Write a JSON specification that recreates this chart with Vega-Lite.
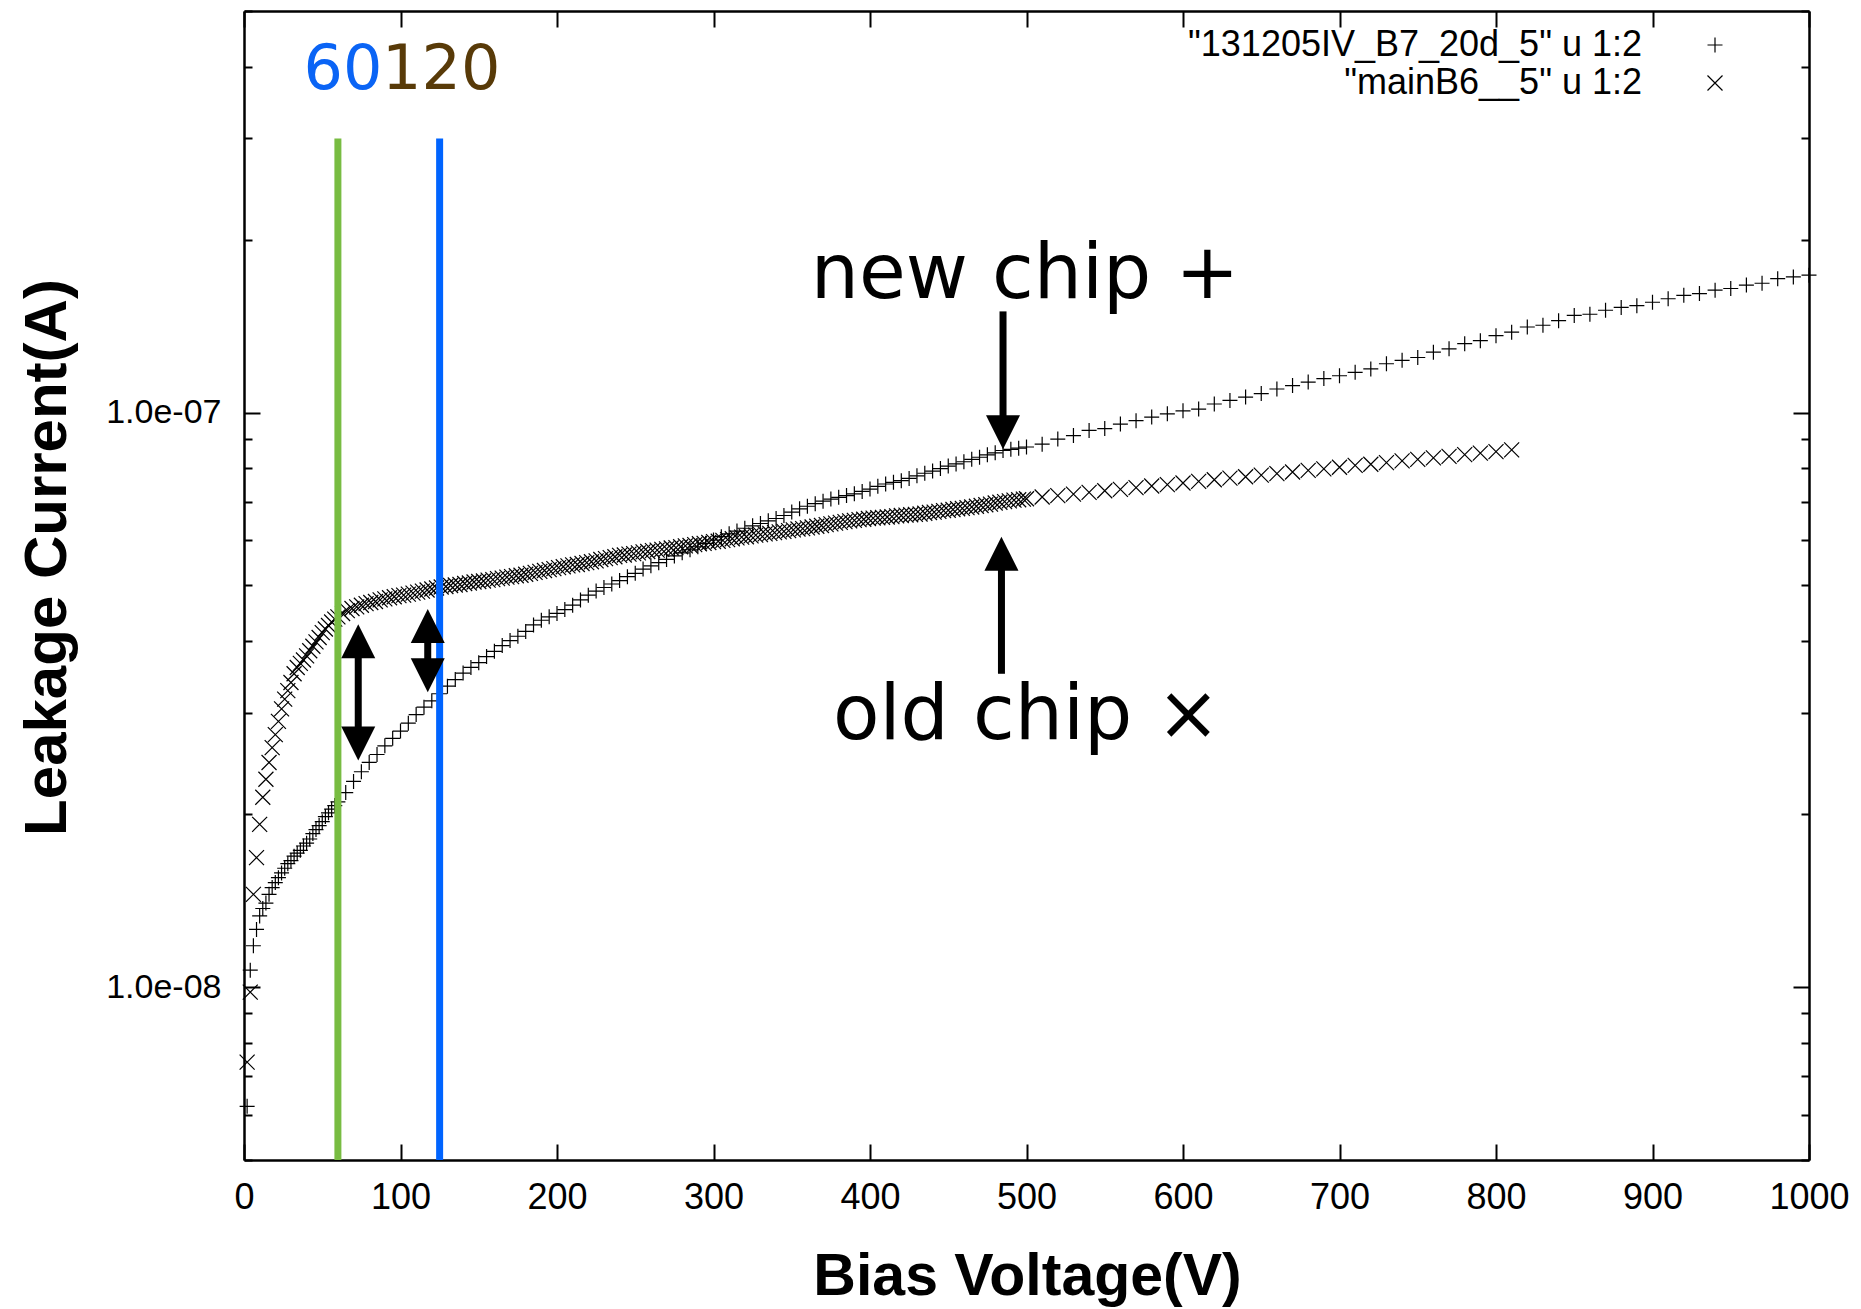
{
"$schema": "https://vega.github.io/schema/vega-lite/v6.json",
"width": 1565, "height": 1149,
"autosize": {"type": "none"},
"padding": {"left": 244, "top": 11, "right": 52, "bottom": 149},
"background": "white",
"config": {
  "view": {"stroke": null},
  "axis": {"labelFont": "Liberation Sans", "labelFontSize": 34, "labelColor": "black", "titleFont": "Liberation Sans", "titleFontSize": 60, "titleFontWeight": "bold", "titleColor": "black", "domainColor": "black", "domainWidth": 2.5, "tickColor": "black", "tickWidth": 2, "grid": false, "labelOverlap": false}
},
"datasets": {
"newchip": [
{"v":2,"i":6.2e-9},{"v":4,"i":1.07e-8},{"v":6,"i":1.18e-8},{"v":8,"i":1.26e-8},{"v":10,"i":1.33e-8},{"v":12,"i":1.37e-8},{"v":14,"i":1.40e-8},{"v":16,"i":1.45e-8},{"v":18,"i":1.49e-8},{"v":20,"i":1.52e-8},{"v":22,"i":1.55e-8},{"v":24,"i":1.58e-8},{"v":26,"i":1.61e-8},{"v":28,"i":1.64e-8},{"v":30,"i":1.66e-8},{"v":32,"i":1.69e-8},{"v":34,"i":1.71e-8},{"v":36,"i":1.73e-8},{"v":38,"i":1.76e-8},{"v":40,"i":1.78e-8},{"v":42,"i":1.81e-8},{"v":44,"i":1.85e-8},{"v":46,"i":1.88e-8},{"v":48,"i":1.91e-8},{"v":50,"i":1.94e-8},{"v":52,"i":1.98e-8},{"v":54,"i":2.01e-8},{"v":56,"i":2.04e-8},{"v":58,"i":2.07e-8},{"v":60,"i":2.10e-8},
{"v":65,"i":2.18e-8},{"v":70,"i":2.28e-8},{"v":75,"i":2.37e-8},{"v":80,"i":2.46e-8},{"v":85,"i":2.54e-8},{"v":90,"i":2.63e-8},{"v":95,"i":2.71e-8},{"v":100,"i":2.79e-8},{"v":105,"i":2.88e-8},{"v":110,"i":2.98e-8},{"v":115,"i":3.07e-8},{"v":120,"i":3.15e-8},{"v":125,"i":3.24e-8},{"v":130,"i":3.34e-8},{"v":135,"i":3.43e-8},{"v":140,"i":3.52e-8},{"v":145,"i":3.60e-8},{"v":150,"i":3.67e-8},{"v":155,"i":3.76e-8},{"v":160,"i":3.84e-8},{"v":165,"i":3.93e-8},{"v":170,"i":4.01e-8},{"v":175,"i":4.08e-8},{"v":180,"i":4.16e-8},{"v":185,"i":4.27e-8},{"v":190,"i":4.35e-8},{"v":195,"i":4.41e-8},{"v":200,"i":4.47e-8},{"v":205,"i":4.54e-8},{"v":210,"i":4.62e-8},{"v":215,"i":4.72e-8},{"v":220,"i":4.81e-8},{"v":225,"i":4.89e-8},{"v":230,"i":4.96e-8},{"v":235,"i":5.03e-8},{"v":240,"i":5.10e-8},{"v":245,"i":5.18e-8},{"v":250,"i":5.25e-8},{"v":255,"i":5.34e-8},{"v":260,"i":5.41e-8},{"v":265,"i":5.48e-8},{"v":270,"i":5.55e-8},{"v":275,"i":5.63e-8},{"v":280,"i":5.70e-8},{"v":285,"i":5.77e-8},{"v":290,"i":5.84e-8},{"v":295,"i":5.92e-8},{"v":300,"i":6.00e-8},{"v":305,"i":6.08e-8},{"v":310,"i":6.15e-8},{"v":315,"i":6.22e-8},{"v":320,"i":6.29e-8},{"v":325,"i":6.35e-8},{"v":330,"i":6.41e-8},{"v":335,"i":6.48e-8},{"v":340,"i":6.54e-8},{"v":345,"i":6.62e-8},{"v":350,"i":6.71e-8},{"v":355,"i":6.80e-8},{"v":360,"i":6.87e-8},{"v":365,"i":6.94e-8},{"v":370,"i":7.01e-8},{"v":375,"i":7.07e-8},{"v":380,"i":7.12e-8},{"v":385,"i":7.17e-8},{"v":390,"i":7.22e-8},{"v":395,"i":7.29e-8},{"v":400,"i":7.36e-8},{"v":405,"i":7.44e-8},{"v":410,"i":7.51e-8},{"v":415,"i":7.56e-8},{"v":420,"i":7.61e-8},{"v":425,"i":7.68e-8},{"v":430,"i":7.76e-8},{"v":435,"i":7.84e-8},{"v":440,"i":7.91e-8},{"v":445,"i":7.99e-8},{"v":450,"i":8.07e-8},{"v":455,"i":8.14e-8},{"v":460,"i":8.21e-8},{"v":465,"i":8.29e-8},{"v":470,"i":8.36e-8},{"v":475,"i":8.44e-8},{"v":480,"i":8.51e-8},{"v":485,"i":8.59e-8},{"v":490,"i":8.63e-8},{"v":495,"i":8.67e-8},{"v":500,"i":8.71e-8},
{"v":510,"i":8.81e-8},{"v":520,"i":8.99e-8},{"v":530,"i":9.12e-8},{"v":540,"i":9.31e-8},{"v":550,"i":9.38e-8},{"v":560,"i":9.55e-8},{"v":570,"i":9.68e-8},{"v":580,"i":9.82e-8},{"v":590,"i":9.95e-8},{"v":600,"i":1.007e-7},{"v":610,"i":1.014e-7},{"v":620,"i":1.035e-7},{"v":630,"i":1.050e-7},{"v":640,"i":1.064e-7},{"v":650,"i":1.079e-7},{"v":660,"i":1.099e-7},{"v":670,"i":1.114e-7},{"v":680,"i":1.130e-7},{"v":690,"i":1.146e-7},{"v":700,"i":1.159e-7},{"v":710,"i":1.175e-7},{"v":720,"i":1.191e-7},{"v":730,"i":1.216e-7},{"v":740,"i":1.233e-7},{"v":750,"i":1.247e-7},{"v":760,"i":1.274e-7},{"v":770,"i":1.291e-7},{"v":780,"i":1.318e-7},{"v":790,"i":1.334e-7},{"v":800,"i":1.361e-7},{"v":810,"i":1.380e-7},{"v":820,"i":1.409e-7},{"v":830,"i":1.419e-7},{"v":840,"i":1.445e-7},{"v":850,"i":1.476e-7},{"v":860,"i":1.483e-7},{"v":870,"i":1.507e-7},{"v":880,"i":1.524e-7},{"v":890,"i":1.535e-7},{"v":900,"i":1.556e-7},{"v":910,"i":1.578e-7},{"v":920,"i":1.600e-7},{"v":930,"i":1.611e-7},{"v":940,"i":1.633e-7},{"v":950,"i":1.644e-7},{"v":960,"i":1.667e-7},{"v":970,"i":1.679e-7},{"v":980,"i":1.710e-7},{"v":990,"i":1.722e-7},{"v":1000,"i":1.734e-7}
],
"oldchip": [
{"v":2,"i":7.4e-9},{"v":4,"i":9.8e-9},{"v":6,"i":1.45e-8},{"v":8,"i":1.68e-8},{"v":10,"i":1.92e-8},{"v":12,"i":2.14e-8},{"v":14,"i":2.30e-8},{"v":16,"i":2.46e-8},{"v":18,"i":2.61e-8},{"v":20,"i":2.75e-8},{"v":22,"i":2.90e-8},{"v":24,"i":3.05e-8},{"v":26,"i":3.17e-8},{"v":28,"i":3.28e-8},{"v":30,"i":3.39e-8},{"v":32,"i":3.51e-8},{"v":34,"i":3.60e-8},{"v":36,"i":3.66e-8},{"v":38,"i":3.71e-8},{"v":40,"i":3.77e-8},{"v":42,"i":3.85e-8},{"v":44,"i":3.92e-8},{"v":46,"i":3.99e-8},{"v":48,"i":4.06e-8},{"v":50,"i":4.14e-8},{"v":52,"i":4.20e-8},{"v":54,"i":4.26e-8},{"v":56,"i":4.32e-8},{"v":58,"i":4.37e-8},{"v":60,"i":4.41e-8},
{"v":63,"i":4.47e-8},{"v":66,"i":4.52e-8},{"v":69,"i":4.56e-8},{"v":72,"i":4.59e-8},{"v":75,"i":4.62e-8},{"v":78,"i":4.65e-8},{"v":81,"i":4.67e-8},{"v":84,"i":4.69e-8},{"v":87,"i":4.72e-8},{"v":90,"i":4.74e-8},{"v":93,"i":4.76e-8},{"v":96,"i":4.78e-8},{"v":99,"i":4.80e-8},{"v":102,"i":4.81e-8},{"v":105,"i":4.83e-8},{"v":108,"i":4.85e-8},{"v":111,"i":4.87e-8},{"v":114,"i":4.89e-8},{"v":117,"i":4.91e-8},{"v":120,"i":4.93e-8},{"v":123,"i":4.95e-8},{"v":126,"i":4.97e-8},{"v":129,"i":4.98e-8},{"v":132,"i":5.00e-8},{"v":135,"i":5.01e-8},{"v":138,"i":5.02e-8},{"v":141,"i":5.04e-8},{"v":144,"i":5.05e-8},{"v":147,"i":5.07e-8},{"v":150,"i":5.08e-8},{"v":153,"i":5.09e-8},{"v":156,"i":5.11e-8},{"v":159,"i":5.12e-8},{"v":162,"i":5.14e-8},{"v":165,"i":5.15e-8},{"v":168,"i":5.17e-8},{"v":171,"i":5.18e-8},{"v":174,"i":5.20e-8},{"v":177,"i":5.21e-8},{"v":180,"i":5.23e-8},{"v":183,"i":5.25e-8},{"v":186,"i":5.27e-8},{"v":189,"i":5.29e-8},{"v":192,"i":5.31e-8},{"v":195,"i":5.33e-8},{"v":198,"i":5.35e-8},{"v":201,"i":5.37e-8},{"v":204,"i":5.39e-8},{"v":207,"i":5.41e-8},{"v":210,"i":5.43e-8},{"v":213,"i":5.44e-8},{"v":216,"i":5.46e-8},{"v":219,"i":5.48e-8},{"v":222,"i":5.50e-8},{"v":225,"i":5.52e-8},{"v":228,"i":5.55e-8},{"v":231,"i":5.57e-8},{"v":234,"i":5.59e-8},{"v":237,"i":5.61e-8},{"v":240,"i":5.64e-8},{"v":243,"i":5.65e-8},{"v":246,"i":5.67e-8},{"v":249,"i":5.68e-8},{"v":252,"i":5.70e-8},{"v":255,"i":5.72e-8},{"v":258,"i":5.73e-8},{"v":261,"i":5.75e-8},{"v":264,"i":5.76e-8},{"v":267,"i":5.78e-8},{"v":270,"i":5.79e-8},{"v":273,"i":5.81e-8},{"v":276,"i":5.82e-8},{"v":279,"i":5.84e-8},{"v":282,"i":5.86e-8},{"v":285,"i":5.87e-8},{"v":288,"i":5.89e-8},{"v":291,"i":5.91e-8},{"v":294,"i":5.92e-8},{"v":297,"i":5.94e-8},{"v":300,"i":5.96e-8},{"v":303,"i":5.97e-8},{"v":306,"i":5.99e-8},{"v":309,"i":6.01e-8},{"v":312,"i":6.03e-8},{"v":315,"i":6.05e-8},{"v":318,"i":6.07e-8},{"v":321,"i":6.08e-8},{"v":324,"i":6.10e-8},{"v":327,"i":6.12e-8},{"v":330,"i":6.13e-8},{"v":333,"i":6.15e-8},{"v":336,"i":6.16e-8},{"v":339,"i":6.18e-8},{"v":342,"i":6.20e-8},{"v":345,"i":6.21e-8},{"v":348,"i":6.23e-8},{"v":351,"i":6.25e-8},{"v":354,"i":6.27e-8},{"v":357,"i":6.28e-8},{"v":360,"i":6.30e-8},{"v":363,"i":6.32e-8},{"v":366,"i":6.34e-8},{"v":369,"i":6.36e-8},{"v":372,"i":6.38e-8},{"v":375,"i":6.40e-8},{"v":378,"i":6.42e-8},{"v":381,"i":6.44e-8},{"v":384,"i":6.46e-8},{"v":387,"i":6.48e-8},{"v":390,"i":6.49e-8},{"v":393,"i":6.51e-8},{"v":396,"i":6.52e-8},{"v":399,"i":6.54e-8},{"v":402,"i":6.55e-8},{"v":405,"i":6.56e-8},{"v":408,"i":6.57e-8},{"v":411,"i":6.58e-8},{"v":414,"i":6.59e-8},{"v":417,"i":6.61e-8},{"v":420,"i":6.62e-8},{"v":423,"i":6.63e-8},{"v":426,"i":6.64e-8},{"v":429,"i":6.65e-8},{"v":432,"i":6.66e-8},{"v":435,"i":6.68e-8},{"v":438,"i":6.70e-8},{"v":441,"i":6.71e-8},{"v":444,"i":6.73e-8},{"v":447,"i":6.75e-8},{"v":450,"i":6.76e-8},{"v":453,"i":6.78e-8},{"v":456,"i":6.80e-8},{"v":459,"i":6.81e-8},{"v":462,"i":6.83e-8},{"v":465,"i":6.85e-8},{"v":468,"i":6.87e-8},{"v":471,"i":6.89e-8},{"v":474,"i":6.91e-8},{"v":477,"i":6.93e-8},{"v":480,"i":6.96e-8},{"v":483,"i":6.98e-8},{"v":486,"i":7.00e-8},{"v":489,"i":7.02e-8},{"v":492,"i":7.04e-8},{"v":495,"i":7.05e-8},{"v":498,"i":7.07e-8},{"v":500,"i":7.08e-8},
{"v":510,"i":7.13e-8},{"v":520,"i":7.17e-8},{"v":530,"i":7.21e-8},{"v":540,"i":7.26e-8},{"v":550,"i":7.31e-8},{"v":560,"i":7.35e-8},{"v":570,"i":7.40e-8},{"v":580,"i":7.45e-8},{"v":590,"i":7.49e-8},{"v":600,"i":7.54e-8},{"v":610,"i":7.59e-8},{"v":620,"i":7.64e-8},{"v":630,"i":7.69e-8},{"v":640,"i":7.73e-8},{"v":650,"i":7.78e-8},{"v":660,"i":7.83e-8},{"v":670,"i":7.88e-8},{"v":680,"i":7.93e-8},{"v":690,"i":7.98e-8},{"v":700,"i":8.03e-8},{"v":710,"i":8.09e-8},{"v":720,"i":8.13e-8},{"v":730,"i":8.18e-8},{"v":740,"i":8.24e-8},{"v":750,"i":8.29e-8},{"v":760,"i":8.34e-8},{"v":770,"i":8.39e-8},{"v":780,"i":8.45e-8},{"v":790,"i":8.50e-8},{"v":800,"i":8.55e-8},{"v":810,"i":8.61e-8}
]
},
"layer": [
{
  "data": {"name": "newchip"},
  "mark": {"type": "point", "filled": false, "color": "black", "strokeWidth": 1.2, "size": 225, "opacity": 1},
  "encoding": {
    "x": {"field": "v", "type": "quantitative", "scale": {"domain": [0, 1000], "nice": false, "zero": false},
      "axis": {"orient": "bottom", "values": [0,100,200,300,400,500,600,700,800,900,1000], "format": "d", "tickSize": -16, "labelFontSize": 36, "labelPadding": 36, "labelFlush": false, "title": "Bias Voltage(V)", "titleFontSize": 59, "titleX": 783, "titleY": 134, "titleAlign": "center", "titleBaseline": "alphabetic"}},
    "y": {"field": "i", "type": "quantitative", "scale": {"type": "log", "domain": [5e-9, 5e-7], "nice": false},
      "axis": {"orient": "left", "values": [5e-9,6e-9,7e-9,8e-9,9e-9,1e-8,2e-8,3e-8,4e-8,5e-8,6e-8,7e-8,8e-8,9e-8,1e-7,2e-7,3e-7,4e-7,5e-7],
        "labelExpr": "datum.value == 1e-7 ? '1.0e-07' : (datum.value == 1e-8 ? '1.0e-08' : '')",
        "tickSize": {"condition": {"test": "datum.value == 1e-7 || datum.value == 1e-8", "value": -16}, "value": -8},
        "labelFontSize": 34, "labelPadding": 39, "title": "Leakage Current(A)", "titleAngle": 270, "titleX": -197, "titleY": 546, "titleAlign": "center", "titleBaseline": "middle"}},
    "shape": {"datum": "\"131205IV_B7_20d_5\" u 1:2", "type": "nominal",
      "scale": {"domain": ["\"131205IV_B7_20d_5\" u 1:2", "\"mainB6__5\" u 1:2"], "range": ["M-1,0L1,0M0,-1L0,1", "M-1,-1L1,1M-1,1L1,-1"]},
      "legend": {"title": null, "orient": "none", "legendX": 1453, "legendY": 16, "labelAlign": "right", "labelOffset": -91, "labelFont": "Liberation Sans", "labelFontSize": 36, "labelColor": "black", "labelLimit": 800, "symbolSize": 225, "symbolStrokeColor": "black", "symbolFillColor": "transparent", "symbolStrokeWidth": 1.2, "rowPadding": 2}}
  }
},
{
  "data": {"name": "oldchip"},
  "mark": {"type": "point", "filled": false, "color": "black", "strokeWidth": 1.2, "size": 225, "opacity": 1},
  "encoding": {
    "x": {"field": "v", "type": "quantitative", "scale": {"domain": [0, 1000], "nice": false, "zero": false},
      "axis": {"orient": "top", "values": [0,100,200,300,400,500,600,700,800,900,1000], "labels": false, "tickSize": -16, "title": null}},
    "y": {"field": "i", "type": "quantitative", "scale": {"type": "log", "domain": [5e-9, 5e-7], "nice": false},
      "axis": {"orient": "right", "values": [5e-9,6e-9,7e-9,8e-9,9e-9,1e-8,2e-8,3e-8,4e-8,5e-8,6e-8,7e-8,8e-8,9e-8,1e-7,2e-7,3e-7,4e-7,5e-7], "labels": false,
        "tickSize": {"condition": {"test": "datum.value == 1e-7 || datum.value == 1e-8", "value": -16}, "value": -8}, "title": null}},
    "shape": {"datum": "\"mainB6__5\" u 1:2", "type": "nominal"}
  }
},
{
  "data": {"values": [{"bias": 60, "top": 3.0e-7, "bottom": 5e-9}]},
  "mark": {"type": "rule", "color": "#78BC42", "strokeWidth": 7, "strokeCap": "butt"},
  "encoding": {
    "x": {"field": "bias", "type": "quantitative", "axis": null},
    "y": {"field": "top", "type": "quantitative", "axis": null},
    "y2": {"field": "bottom"}
  }
},
{
  "data": {"values": [{"bias": 125, "top": 3.0e-7, "bottom": 5e-9}]},
  "mark": {"type": "rule", "color": "#0064FF", "strokeWidth": 7, "strokeCap": "butt"},
  "encoding": {
    "x": {"field": "bias", "type": "quantitative", "axis": null},
    "y": {"field": "top", "type": "quantitative", "axis": null},
    "y2": {"field": "bottom"}
  }
},
{
  "data": {"values": [{"label": "60", "bias": 63.3, "cur": 3.66e-7}]},
  "mark": {"type": "text", "font": "DejaVu Sans", "fontSize": 62, "color": "#0A64F5", "align": "center", "baseline": "alphabetic"},
  "encoding": {
    "x": {"field": "bias", "type": "quantitative", "axis": null},
    "y": {"field": "cur", "type": "quantitative", "axis": null},
    "text": {"field": "label"}
  }
},
{
  "data": {"values": [{"label": "120", "bias": 126, "cur": 3.66e-7}]},
  "mark": {"type": "text", "font": "DejaVu Sans", "fontSize": 62, "color": "#583A08", "align": "center", "baseline": "alphabetic"},
  "encoding": {
    "x": {"field": "bias", "type": "quantitative", "axis": null},
    "y": {"field": "cur", "type": "quantitative", "axis": null},
    "text": {"field": "label"}
  }
},
{
  "data": {"values": [{"label": "new chip +", "bias": 499, "cur": 1.585e-7}, {"label": "old chip ×", "bias": 500, "cur": 2.70e-8}]},
  "mark": {"type": "text", "font": "DejaVu Sans", "fontSize": 76, "color": "black", "align": "center", "baseline": "alphabetic"},
  "encoding": {
    "x": {"field": "bias", "type": "quantitative", "axis": null},
    "y": {"field": "cur", "type": "quantitative", "axis": null},
    "text": {"field": "label"}
  }
},
{
  "data": {"values": [{"bias": 73, "from": 3.85e-8, "to": 2.76e-8}, {"bias": 117.4, "from": 4.09e-8, "to": 3.62e-8}, {"bias": 485, "from": 1.50e-7, "to": 9.72e-8}, {"bias": 484, "from": 3.51e-8, "to": 5.40e-8}]},
  "mark": {"type": "rule", "color": "black", "strokeWidth": 7, "strokeCap": "butt"},
  "encoding": {
    "x": {"field": "bias", "type": "quantitative", "axis": null},
    "y": {"field": "from", "type": "quantitative", "axis": null},
    "y2": {"field": "to"}
  }
},
{
  "data": {"values": [{"bias": 73, "tip": 4.28e-8}, {"bias": 117.4, "tip": 4.55e-8}, {"bias": 484, "tip": 6.08e-8}]},
  "mark": {"type": "point", "shape": "M0,0L-1,2L1,2Z", "filled": true, "color": "black", "size": 1156, "opacity": 1, "strokeWidth": 0},
  "encoding": {
    "x": {"field": "bias", "type": "quantitative", "axis": null},
    "y": {"field": "tip", "type": "quantitative", "axis": null}
  }
},
{
  "data": {"values": [{"bias": 73, "tip": 2.48e-8}, {"bias": 117.4, "tip": 3.26e-8}, {"bias": 485, "tip": 8.63e-8}]},
  "mark": {"type": "point", "shape": "M0,0L-1,-2L1,-2Z", "filled": true, "color": "black", "size": 1156, "opacity": 1, "strokeWidth": 0},
  "encoding": {
    "x": {"field": "bias", "type": "quantitative", "axis": null},
    "y": {"field": "tip", "type": "quantitative", "axis": null}
  }
}
]
}
